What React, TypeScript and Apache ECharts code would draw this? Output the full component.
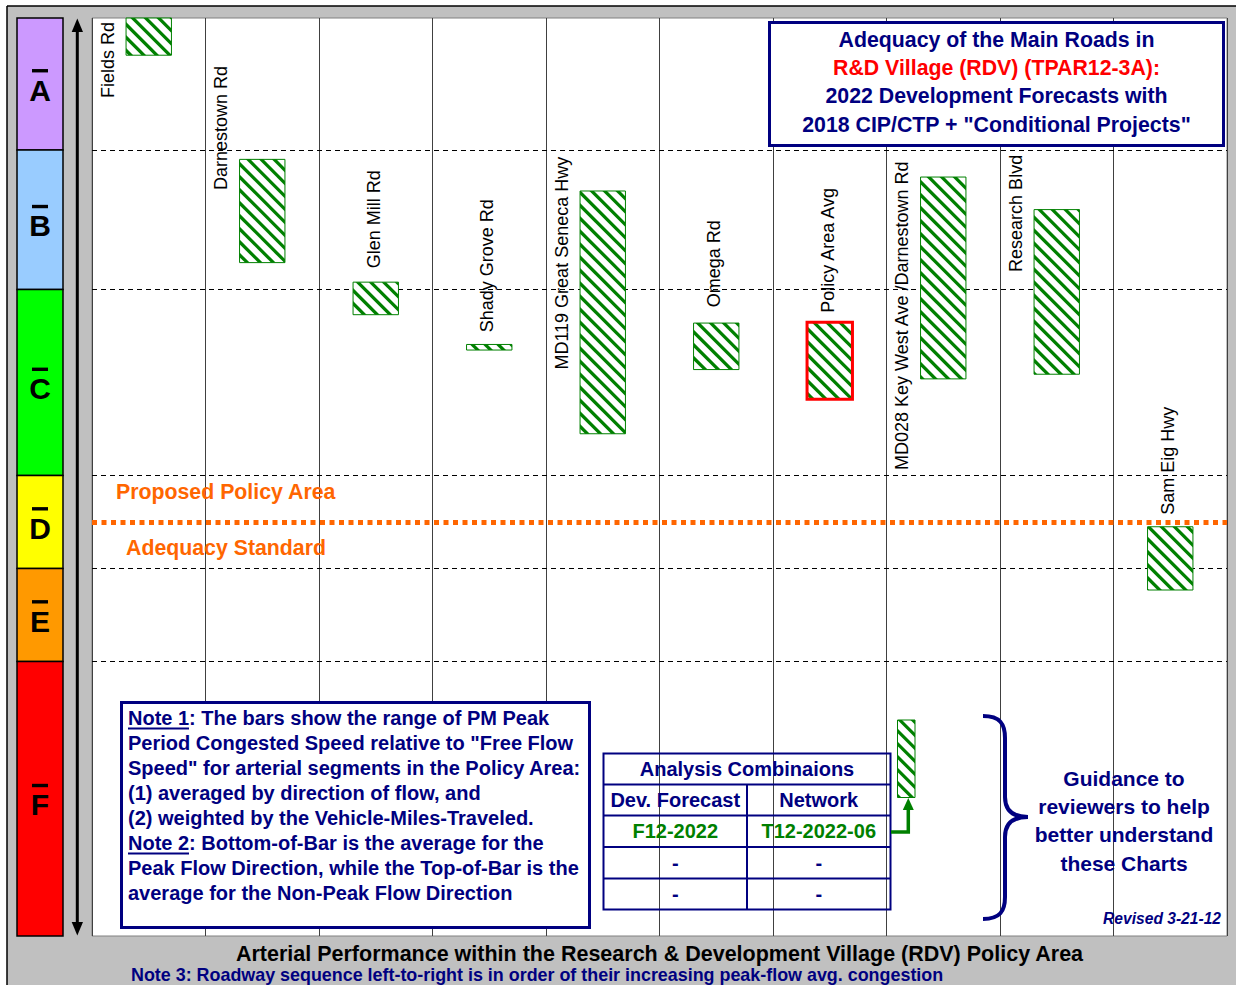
import React, { useEffect, useRef } from 'react';
import * as echarts from 'echarts';

// ---------- data ----------
const categories = [
  'Fields Rd',
  'Darnestown Rd',
  'Glen Mill Rd',
  'Shady Grove Rd',
  'MD119 Great Seneca Hwy',
  'Omega Rd',
  'Policy Area Avg',
  'MD028 Key West Ave /Darnestown Rd',
  'Research Blvd',
  'Sam Eig Hwy',
];
// Top-of-Bar: average for the Non-Peak Flow Direction (% of free flow speed)
const nonPeakSpeed = [100, 84.0, 70.8, 64.1, 80.6, 66.4, 66.5, 82.1, 78.6, 44.5];
// Bottom-of-Bar: average for the Peak Flow Direction
const peakSpeed = [95.2, 72.9, 67.3, 63.5, 54.5, 61.4, 58.2, 60.4, 60.9, 37.7];
// where each road name label starts (value on the speed axis) and whether it sits beside the bar
const labelAt = [90.6, 80.7, 72.3, 65.4, 61.4, 68.1, 67.5, 50.6, 71.9, 45.8];
const labelBeside = [true, true, false, false, true, false, false, true, true, false];

const losLetters = ['A', 'B', 'C', 'D', 'E', 'F'];
const losBounds = [85, 70, 50, 40, 30];
const losColors = ['#cc99ff', '#99ccff', '#00ff00', '#ffff00', '#ff9900', '#ff0000'];
const adequacyStandard = 45;
const Y_MIN = 0.5;
const Y_MAX = 99.2;

const titleLines = [
  'Adequacy of the Main Roads in',
  'R&D Village (RDV) (TPAR12-3A):',
  '2022 Development Forecasts with',
  '2018 CIP/CTP + "Conditional Projects"',
];
const noteLines = [
  'Note 1: The bars show the range of PM Peak',
  'Period Congested Speed relative to "Free Flow',
  'Speed" for arterial segments in the Policy Area:',
  '(1) averaged by direction of flow, and',
  '(2) weighted by the Vehicle-Miles-Traveled.',
  'Note 2: Bottom-of-Bar is the average for the',
  'Peak Flow Direction, while the Top-of-Bar is the',
  'average for the Non-Peak Flow Direction',
];
const tableRows = [
  ['Dev. Forecast', 'Network'],
  ['F12-2022', 'T12-2022-06'],
  ['-', '-'],
  ['-', '-'],
];
const guidanceLines = ['Guidance to', 'reviewers to help', 'better understand', 'these Charts'];

const FONT = '"Liberation Sans", Arial, Helvetica, sans-serif';
const NAVY = '#000080';
const GREEN = '#008000';
const ORANGE = '#ff6600';

// ---------- helpers ----------
type Pt = [number, number];
function clipHalf(poly: Pt[], f: (p: Pt) => number): Pt[] {
  const out: Pt[] = [];
  for (let i = 0; i < poly.length; i++) {
    const a = poly[i];
    const b = poly[(i + 1) % poly.length];
    const fa = f(a);
    const fb = f(b);
    if (fa >= 0) out.push(a);
    if ((fa >= 0) !== (fb >= 0)) {
      const t = fa / (fa - fb);
      out.push([a[0] + t * (b[0] - a[0]), a[1] + t * (b[1] - a[1])]);
    }
  }
  return out;
}
function stripes(x0: number, y0: number, x1: number, y1: number, step = 13, w = 4.6): Pt[][] {
  const rect: Pt[] = [[x0, y0], [x1, y0], [x1, y1], [x0, y1]];
  const res: Pt[][] = [];
  const cMin = y0 - x1 - w;
  const cMax = y1 - x0;
  for (let c = Math.floor(cMin / step) * step; c < cMax; c += step) {
    let p = clipHalf(rect, (q) => q[1] - q[0] - c);
    p = clipHalf(p, (q) => c + w - (q[1] - q[0]));
    if (p.length >= 3) res.push(p);
  }
  return res;
}
function hatchedBar(x0: number, y0: number, x1: number, y1: number, stroke: string, lw: number, z?: number) {
  const zz = z === undefined ? {} : { z };
  const els: any[] = [
    { type: 'rect', ...zz, shape: { x: x0, y: y0, width: x1 - x0, height: y1 - y0 }, style: { fill: '#ffffff' } },
  ];
  stripes(x0, y0, x1, y1).forEach((p) =>
    els.push({ type: 'polygon', ...zz, shape: { points: p }, style: { fill: GREEN } })
  );
  els.push({
    type: 'rect',
    ...zz,
    shape: { x: x0, y: y0, width: x1 - x0, height: y1 - y0 },
    style: { fill: 'none', stroke, lineWidth: lw },
  });
  return els;
}
function txt(text: string, x: number, y: number, font: string, fill: string, align = 'left', vAlign = 'middle') {
  return {
    type: 'text',
    x,
    y,
    z: 100,
    silent: true,
    style: { text, font, fill, textAlign: align, textVerticalAlign: vAlign, align, verticalAlign: vAlign },
  };
}

export default function App() {
  const ref = useRef<HTMLDivElement>(null);

  useEffect(() => {
    document.body.style.margin = '0';
    document.body.style.overflow = 'hidden';
    const chart = echarts.init(ref.current as HTMLDivElement, null, { renderer: 'svg' });

    const renderItem = (params: any, api: any) => {
      const i = api.value(0);
      const top = Math.min(api.value(1), Y_MAX);
      const bot = api.value(2);
      const p1 = api.coord([i, top]);
      const p2 = api.coord([i, bot]);
      const bw = api.size([1, 0])[0] * 0.4;
      const x0 = p1[0] - bw / 2;
      const x1 = x0 + bw;
      const isAvg = categories[i] === 'Policy Area Avg';
      const children: any[] = hatchedBar(x0, p1[1], x1, p2[1], isAvg ? '#ff0000' : GREEN, isAvg ? 3 : 1);
      const lp = api.coord([i, labelAt[i]]);
      children.push({
        type: 'text',
        x: p1[0] + (labelBeside[i] ? -41 : -2),
        y: lp[1],
        rotation: Math.PI / 2,
        style: {
          text: categories[i],
          font: '18px ' + FONT,
          fill: '#000',
          textAlign: 'left',
          textVerticalAlign: 'middle',
          align: 'left',
          verticalAlign: 'middle',
        },
      });
      return { type: 'group', children };
    };

    chart.setOption({
      animation: false,
      backgroundColor: '#c0c0c0',
      grid: {
        left: 92,
        right: 9,
        top: 18,
        bottom: 49,
        show: true,
        backgroundColor: '#ffffff',
        borderColor: '#808080',
        borderWidth: 1,
      },
      xAxis: {
        type: 'category',
        data: categories,
        axisLine: { show: false },
        axisTick: { show: false },
        axisLabel: { show: false, interval: 0 },
        splitLine: { show: true, interval: 0, lineStyle: { color: '#404040', width: 1 } },
      },
      yAxis: {
        type: 'value',
        min: Y_MIN,
        max: Y_MAX,
        axisLine: { show: false },
        axisTick: { show: false },
        axisLabel: { show: false },
        splitLine: { show: false },
      },
      series: [
        {
          type: 'line',
          data: [],
          z: 1,
          silent: true,
          markLine: {
            silent: true,
            animation: false,
            symbol: ['none', 'none'],
            label: { show: false },
            data: [
              ...losBounds.map((v) => ({ yAxis: v, lineStyle: { color: '#000', width: 1, type: [5, 4] } })),
              { yAxis: adequacyStandard, lineStyle: { color: ORANGE, width: 5, type: [5, 4.5] } },
            ],
          },
        },
        {
          type: 'custom',
          z: 5,
          silent: true,
          data: categories.map((c, i) => [i, nonPeakSpeed[i], peakSpeed[i]]),
          encode: { x: 0, y: [1, 2] },
          renderItem,
        },
      ],
    });

    const yp = (v: number) => chart.convertToPixel({ yAxisIndex: 0 }, v) as number;
    const edges = [Y_MAX, ...losBounds, Y_MIN].map(yp);
    const els: any[] = [];

    // outer frame
    els.push({ type: 'rect', z: 1, shape: { x: 0, y: 0, width: 1236, height: 6 }, style: { fill: '#fff' } });
    els.push({ type: 'rect', z: 1, shape: { x: 0, y: 0, width: 7, height: 985 }, style: { fill: '#fff' } });
    els.push({ type: 'line', z: 2, shape: { x1: 7, y1: 6, x2: 1236, y2: 6 }, style: { stroke: '#000', lineWidth: 1.5 } });
    els.push({ type: 'line', z: 2, shape: { x1: 7, y1: 6, x2: 7, y2: 985 }, style: { stroke: '#000', lineWidth: 1.5 } });

    // LOS column
    losLetters.forEach((L, k) => {
      const a = edges[k];
      const b = edges[k + 1];
      els.push({
        type: 'rect',
        z: 3,
        shape: { x: 17, y: a, width: 46, height: b - a },
        style: { fill: losColors[k], stroke: '#000', lineWidth: 1.5 },
      });
      const c = (a + b) / 2 + 6;
      els.push(txt(L, 40, c, 'bold 30px ' + FONT, '#000', 'center', 'middle'));
      els.push({ type: 'rect', z: 100, shape: { x: 32, y: c - 21, width: 16, height: 3.4 }, style: { fill: '#000' } });
    });

    // double-headed arrow
    els.push({ type: 'line', z: 3, shape: { x1: 77.3, y1: 30, x2: 77.3, y2: 924 }, style: { stroke: '#000', lineWidth: 3 } });
    els.push({ type: 'polygon', z: 3, shape: { points: [[77.3, 18.5], [71.7, 32], [83, 32]] }, style: { fill: '#000' } });
    els.push({ type: 'polygon', z: 3, shape: { points: [[77.3, 935.5], [71.7, 922], [83, 922]] }, style: { fill: '#000' } });

    // adequacy standard labels
    els.push(txt('Proposed Policy Area', 116, 492, 'bold 21.3px ' + FONT, ORANGE));
    els.push(txt('Adequacy Standard', 126, 548, 'bold 21.3px ' + FONT, ORANGE));

    // title box
    els.push({
      type: 'rect',
      z: 90,
      shape: { x: 769.5, y: 22.5, width: 454, height: 123 },
      style: { fill: '#fff', stroke: NAVY, lineWidth: 3 },
    });
    titleLines.forEach((t, k) => {
      els.push(txt(t, 996.5, 40 + k * 28.2, 'bold 21.3px ' + FONT, k === 1 ? '#ff0000' : NAVY, 'center'));
    });

    // note box
    els.push({
      type: 'rect',
      z: 90,
      shape: { x: 121.5, y: 702.5, width: 468, height: 225 },
      style: { fill: '#fff', stroke: NAVY, lineWidth: 3 },
    });
    noteLines.forEach((t, k) => {
      els.push(txt(t, 128, 718.3 + k * 25, 'bold 20px ' + FONT, NAVY));
    });
    els.push({ type: 'line', z: 100, shape: { x1: 128, y1: 728.5, x2: 189, y2: 728.5 }, style: { stroke: NAVY, lineWidth: 2 } });
    els.push({ type: 'line', z: 100, shape: { x1: 128, y1: 853.5, x2: 189, y2: 853.5 }, style: { stroke: NAVY, lineWidth: 2 } });

    // analysis table
    const tx0 = 603.5, tx1 = 890.5, tmid = 747;
    const rowsY = [753.5, 784.5, 815.5, 847, 878.5, 909.5];
    els.push({
      type: 'rect',
      z: 95,
      shape: { x: tx0, y: rowsY[0], width: tx1 - tx0, height: rowsY[5] - rowsY[0] },
      style: { fill: 'none', stroke: NAVY, lineWidth: 2 },
    });
    for (let r = 1; r < 5; r++) {
      els.push({ type: 'line', z: 95, shape: { x1: tx0, y1: rowsY[r], x2: tx1, y2: rowsY[r] }, style: { stroke: NAVY, lineWidth: 2 } });
    }
    els.push({ type: 'line', z: 95, shape: { x1: tmid, y1: rowsY[1], x2: tmid, y2: rowsY[5] }, style: { stroke: NAVY, lineWidth: 2 } });
    els.push(txt('Analysis Combinaions', (tx0 + tx1) / 2, (rowsY[0] + rowsY[1]) / 2, 'bold 20px ' + FONT, NAVY, 'center'));
    tableRows.forEach((row, r) => {
      const cy = (rowsY[r + 1] + rowsY[r + 2]) / 2;
      const col = r === 1 ? GREEN : NAVY;
      els.push(txt(row[0], (tx0 + tmid) / 2, cy, 'bold 20px ' + FONT, col, 'center'));
      els.push(txt(row[1], (tmid + tx1) / 2, cy, 'bold 20px ' + FONT, col, 'center'));
    });

    // legend sample bar + green arrow
    hatchedBar(897.5, 720, 915, 797.5, GREEN, 1, 96).forEach((e) => els.push(e));
    els.push({
      type: 'polyline',
      z: 96,
      shape: { points: [[891, 832], [908.3, 832], [908.3, 808]] },
      style: { stroke: GREEN, lineWidth: 3.5, fill: 'none' },
    });
    els.push({ type: 'polygon', z: 96, shape: { points: [[908.3, 798], [902.8, 810], [913.8, 810]] }, style: { fill: GREEN } });

    // brace
    const braceStyle = { stroke: NAVY, lineWidth: 4, fill: 'none' };
    els.push({ type: 'bezierCurve', z: 96, shape: { x1: 983, y1: 716, x2: 1005, y2: 738, cpx1: 1000, cpy1: 716, cpx2: 1005, cpy2: 724 }, style: braceStyle });
    els.push({ type: 'line', z: 96, shape: { x1: 1005, y1: 738, x2: 1005, y2: 797 }, style: braceStyle });
    els.push({ type: 'bezierCurve', z: 96, shape: { x1: 1005, y1: 797, x2: 1028, y2: 817, cpx1: 1005, cpy1: 810, cpx2: 1012, cpy2: 817 }, style: braceStyle });
    els.push({ type: 'bezierCurve', z: 96, shape: { x1: 1028, y1: 817, x2: 1005, y2: 837, cpx1: 1012, cpy1: 817, cpx2: 1005, cpy2: 824 }, style: braceStyle });
    els.push({ type: 'line', z: 96, shape: { x1: 1005, y1: 837, x2: 1005, y2: 897 }, style: braceStyle });
    els.push({ type: 'bezierCurve', z: 96, shape: { x1: 1005, y1: 897, x2: 983, y2: 919, cpx1: 1005, cpy1: 911, cpx2: 1000, cpy2: 919 }, style: braceStyle });

    guidanceLines.forEach((t, k) => {
      els.push(txt(t, 1124, 778.3 + k * 28.3, 'bold 21px ' + FONT, NAVY, 'center'));
    });
    els.push(txt('Revised 3-21-12', 1221, 918, 'italic bold 15.6px ' + FONT, NAVY, 'right'));

    // bottom titles
    els.push(
      txt('Arterial Performance within the Research & Development Village (RDV) Policy Area', 659.5, 954, 'bold 21.5px ' + FONT, '#000', 'center')
    );
    els.push(
      txt('Note 3: Roadway sequence left-to-right is in order of their increasing peak-flow avg. congestion', 131, 974.5, 'bold 17.9px ' + FONT, NAVY)
    );

    chart.setOption({ graphic: { elements: els } });

    return () => chart.dispose();
  }, []);

  return <div ref={ref} style={{ width: 1236, height: 985 }} />;
}
